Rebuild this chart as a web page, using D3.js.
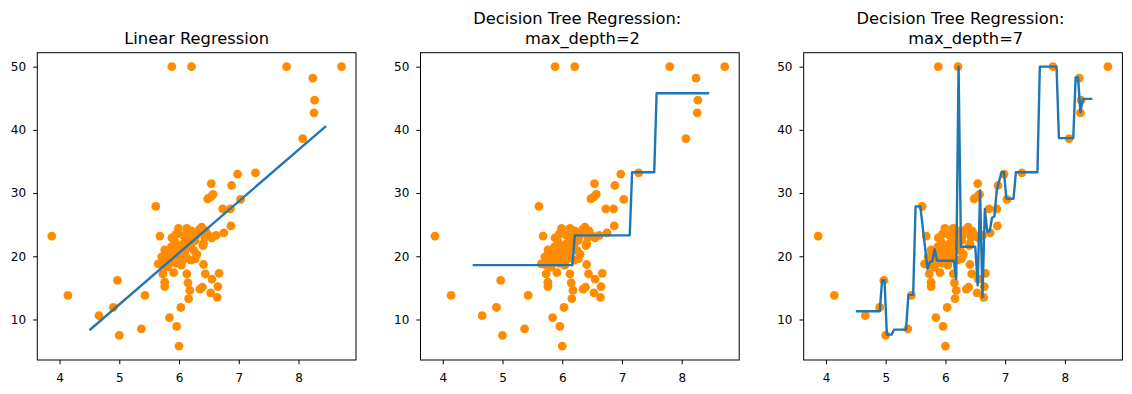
<!DOCTYPE html>
<html>
<head>
<meta charset="utf-8">
<script src="https://cdn.jsdelivr.net/npm/d3@7"></script>
<style>
  html, body { margin: 0; padding: 0; background: #fff; }
  svg { display: block; font-family: "DejaVu Sans", sans-serif; }
</style>
</head>
<body>
<script>
const rm = [5.88, 6.21, 7.80, 8.72, 8.24, 8.27, 8.26, 8.07, 6.98, 7.28,
  6.54, 6.88, 6.48, 6.53, 6.57, 7.03, 5.61, 6.73, 6.86, 6.87,
  6.75, 3.87, 5.68, 6.62, 4.97, 4.14, 5.43, 4.90, 4.66, 5.84,
  6.03, 5.96, 5.37, 5.00, 6.00, 6.41, 6.44, 6.67, 6.55, 6.65,
  6.35, 6.39, 6.53, 6.64, 6.13, 6.15, 6.18, 6.16, 5.76, 5.76,
  5.73, 5.91, 5.99, 6.13, 6.38, 6.32, 6.07, 5.93, 5.87, 6.07,
  6.27, 6.41, 5.79, 5.99, 6.10, 5.71, 5.87, 6.27, 5.65, 5.82,
  6.04, 6.49, 6.28, 6.34, 5.95, 6.20, 6.23, 5.84, 5.95, 6.12,
  6.20, 5.73, 5.79, 5.90, 6.02, 6.15, 6.30, 5.81, 6.06, 5.97,
  6.43, 6.00, 5.88, 6.21, 6.40, 6.45, 6.13, 5.76, 6.25, 6.55]
const price = [50, 50, 50, 50, 48.2, 44.7, 42.7, 38.6, 33.0, 33.2,
  31.5, 31.2, 29.1, 29.4, 29.8, 29.0, 27.9, 27.5, 27.5, 24.8,
  23.7, 23.2, 23.2, 23.3, 16.2, 13.8, 13.8, 11.9, 10.6, 10.3,
  11.9, 8.9, 8.5, 7.5, 5.8, 18.7, 17.2, 17.3, 16.4, 15.2,
  14.8, 15.1, 14.2, 13.5, 17.2, 15.8, 14.6, 13.3, 15.9, 15.2,
  17.2, 17.4, 24.4, 24.4, 24.6, 23.8, 23.3, 22.3, 21.5, 22.0,
  22.5, 22.0, 20.7, 20.9, 20.9, 19.9, 19.9, 19.6, 18.8, 18.6,
  18.6, 23.3, 23.2, 24.2, 23.5, 21.5, 22.8, 19.4, 18.9, 19.9,
  19.4, 18.6, 19.8, 20.5, 21.2, 23.0, 20.3, 18.3, 19.3, 21.7,
  23.0, 20.0, 22.9, 24.0, 21.7, 24.0, 22.5, 21.0, 20.9, 22.9]

// prediction lines (vertices)
const linX = [4.5, 8.46]
const linY = [8.3, 40.6]
const d2X = [4.5, 6.17, 6.21, 7.13, 7.17, 7.54, 7.58, 8.46]
const d2Y = [18.6, 18.6, 23.3, 23.3, 33.3, 33.3, 45.8, 45.8]
const d7X = [4.5, 4.90, 4.94, 4.98, 5.02, 5.10, 5.14, 5.34, 5.38, 5.46,
  5.50, 5.58, 5.70, 5.74, 5.78, 5.82, 5.86, 6.14, 6.18, 6.22,
  6.26, 6.50, 6.54, 6.58, 6.62, 6.66, 6.70, 6.74, 6.78, 6.82,
  6.86, 6.94, 6.98, 7.02, 7.14, 7.18, 7.54, 7.58, 7.86, 7.90,
  8.14, 8.18, 8.22, 8.26, 8.30, 8.46]
const d7Y = [11.3, 11.3, 16.2, 16.2, 7.6, 7.6, 8.4, 8.4, 13.9, 13.9,
  27.9, 27.9, 18.0, 19.1, 19.2, 21.1, 19.3, 19.3, 16.4, 50,
  21.5, 21.5, 15.4, 30.4, 13.5, 27.5, 23.9, 23.9, 26.1, 26.3,
  30.5, 33.3, 33.3, 29.1, 29.1, 33.3, 33.3, 50, 50, 38.7,
  38.7, 48.3, 48.3, 42.8, 44.9, 44.9]

const titles = [['Linear Regression'],
  ['Decision Tree Regression: ', ' max_depth=2'],
  ['Decision Tree Regression: ', ' max_depth=7']]
const lines = [[linX, linY], [d2X, d2Y], [d7X, d7Y]]
const xTicks = [4, 5, 6, 7, 8]
const yTicks = [10, 20, 30, 40, 50]

const W = 1132, H = 394
const left0 = 37.3, step = 383.2, pw = 318.7, mTop = 52.7, ph = 307.3

const svg = d3.select('body').append('svg')
  .attr('width', W).attr('height', H)

// matplotlib style 5% margins
let pad = (lo, hi) => [lo - (hi - lo) * 0.05, hi + (hi - lo) * 0.05]

lines.forEach(([lx, ly], i) => {
  let xs = d3.extent(rm.concat(lx))
  let ys = d3.extent(price.concat(ly))
  let x = d3.scaleLinear().domain(pad(...xs)).range([0, pw])
  let y = d3.scaleLinear().domain(pad(...ys)).range([ph, 0])
  let g = svg.append('g').attr('transform', `translate(${left0 + i * step},${mTop})`)

  g.append('g').selectAll('circle')
    .data(rm.map((d, j) => [d, price[j]]))
    .join('circle')
    .attr('cx', d => x(d[0]))
    .attr('cy', d => y(d[1]))
    .attr('r', 4.4)
    .attr('fill', 'darkorange')

  g.append('path')
    .datum(lx.map((d, j) => [d, ly[j]]))
    .attr('fill', 'none')
    .attr('stroke', '#1f77b4')
    .attr('stroke-width', 2.4)
    .attr('stroke-linejoin', 'round')
    .attr('d', d3.line().x(d => x(d[0])).y(d => y(d[1])))

  g.append('rect')
    .attr('width', pw).attr('height', ph)
    .attr('fill', 'none').attr('stroke', '#000').attr('stroke-width', 1)

  let xa = g.append('g').attr('transform', `translate(0,${ph})`)
    .call(d3.axisBottom(x).tickValues(xTicks).tickSize(4.2).tickFormat(d3.format('d')))
  let ya = g.append('g')
    .call(d3.axisLeft(y).tickValues(yTicks).tickSize(4.2).tickPadding(7).tickFormat(d3.format('d')))
  for (let a of [xa, ya]) {
    a.select('.domain').remove()
    a.selectAll('line').attr('stroke', '#000').attr('stroke-width', 1)
    a.selectAll('text').attr('fill', '#000')
      .style('font-size', '12px').style('font-family', '"DejaVu Sans", sans-serif')
  }
  xa.selectAll('text').attr('y', 22).attr('dy', 0)

  let t = titles[i]
  g.append('text')
    .attr('x', pw / 2)
    .attr('text-anchor', 'middle')
    .style('font-size', '16.3px')
    .style('white-space', 'pre')
    .attr('fill', '#000')
    .selectAll('tspan')
    .data(t)
    .join('tspan')
    .attr('x', pw / 2)
    .attr('y', (d, j) => 44.3 - mTop - (t.length - 1 - j) * 20)
    .text(d => d)
})
</script>
</body>
</html>
